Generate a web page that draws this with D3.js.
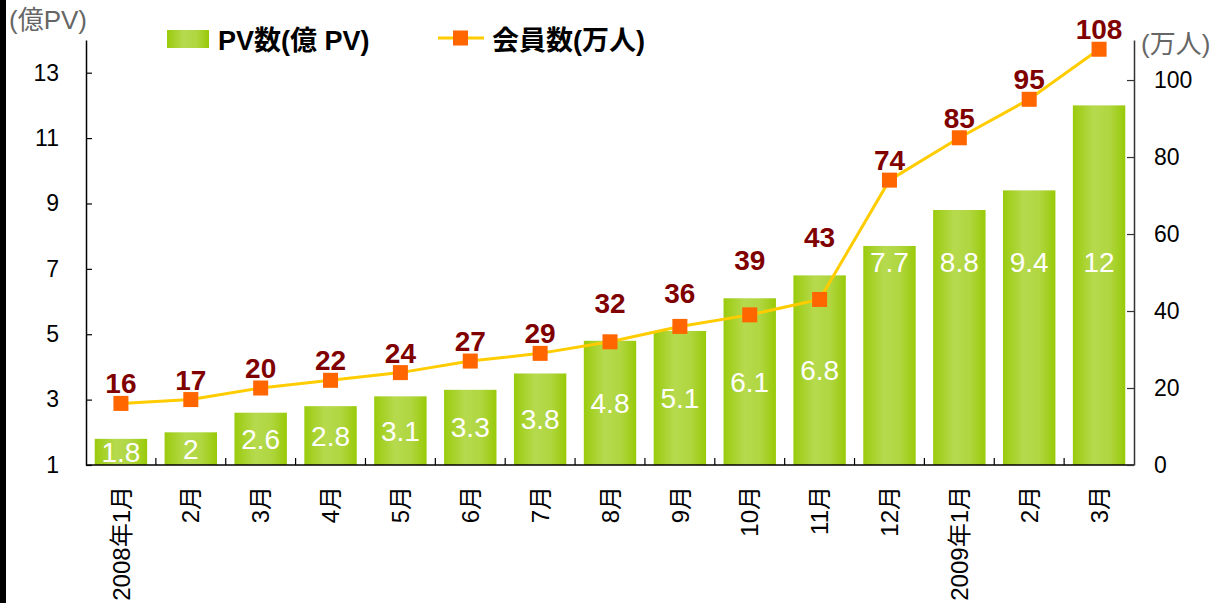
<!DOCTYPE html>
<html>
<head>
<meta charset="utf-8">
<script src="https://cdn.jsdelivr.net/npm/d3@7"></script>
<style>
  body { margin: 0; background: #fff; }
  svg { display: block; font-family: Arial, 'Liberation Sans', 'Noto Sans CJK JP', sans-serif; }
</style>
</head>
<body>
<div id="chart"></div>
<script>
const months = ['2008年1月', '2月', '3月', '4月', '5月', '6月', '7月', '8月', '9月', '10月', '11月', '12月', '2009年1月', '2月', '3月'];
const pvValues = [1.8, 2, 2.6, 2.8, 3.1, 3.3, 3.8, 4.8, 5.1, 6.1, 6.8, 7.7, 8.8, 9.4, 12];
const memberValues = [16, 17, 20, 22, 24, 27, 29, 32, 36, 39, 43, 74, 85, 95, 108];
const leftTicks = [1, 3, 5, 7, 9, 11, 13];
const rightTicks = [0, 20, 40, 60, 80, 100];

const W = 1213, H = 603;
const MARGIN = {TOP: 40, BOTTOM: 138, LEFT: 86, RIGHT: 79};
const WIDTH = W - MARGIN.LEFT - MARGIN.RIGHT;
const HEIGHT = H - MARGIN.TOP - MARGIN.BOTTOM;

const svg = d3.select('#chart').append('svg')
  .attr('width', W)
  .attr('height', H);

// black strip on the left edge
svg.append('rect').attr('x', 0).attr('y', 0).attr('width', 6).attr('height', H).attr('fill', '#000');

const defs = svg.append('defs');
const grad = defs.append('linearGradient').attr('id', 'barGrad')
  .attr('x1', '0%').attr('x2', '100%').attr('y1', '0%').attr('y2', '0%');
grad.append('stop').attr('offset', '0%').attr('stop-color', '#9acb0c');
grad.append('stop').attr('offset', '40%').attr('stop-color', '#b6da4e');
grad.append('stop').attr('offset', '70%').attr('stop-color', '#b0d640');
grad.append('stop').attr('offset', '100%').attr('stop-color', '#98ca08');

defs.append('clipPath').attr('id', 'plotClip')
  .append('rect').attr('x', 0).attr('y', -MARGIN.TOP).attr('width', WIDTH).attr('height', HEIGHT + MARGIN.TOP);

const g = svg.append('g')
  .attr('transform', `translate(${MARGIN.LEFT}, ${MARGIN.TOP})`);

const x = d3.scaleBand()
  .domain(d3.range(months.length))
  .range([0, WIDTH])
  .paddingInner(0.25)
  .paddingOuter(0.125);

const yLeft = d3.scaleLinear().domain([1, 14]).range([HEIGHT, 0]);
const yRight = d3.scaleLinear().domain([0, 110.4]).range([HEIGHT, 0]);

// bars
g.selectAll('rect.bar')
  .data(pvValues)
  .enter().append('rect')
    .attr('class', 'bar')
    .attr('x', (d, i) => x(i))
    .attr('y', d => yLeft(d))
    .attr('width', x.bandwidth())
    .attr('height', d => HEIGHT - yLeft(d))
    .attr('fill', 'url(#barGrad)');

// bar labels: centred in the bar, tall bars share one level
g.append('g').attr('clip-path', 'url(#plotClip)')
  .selectAll('text')
  .data(pvValues)
  .enter().append('text')
    .attr('x', (d, i) => x(i) + x.bandwidth() / 2)
    .attr('y', d => d > 7 ? yLeft(7.2) : (yLeft(d) + HEIGHT) / 2)
    .attr('dy', '0.36em')
    .attr('text-anchor', 'middle')
    .attr('fill', '#fff')
    .attr('font-size', '28px')
    .text(d => d);

// x axis line and ticks between categories
const step = x.step();
const edge = (step - x.bandwidth()) / 2;
g.append('line')
  .attr('x1', 0).attr('x2', WIDTH)
  .attr('y1', HEIGHT).attr('y2', HEIGHT)
  .attr('stroke', '#000').attr('stroke-width', 1.5);
g.selectAll('line.xtick')
  .data(d3.range(1, months.length))
  .enter().append('line')
    .attr('class', 'xtick')
    .attr('x1', i => x(i) - edge).attr('x2', i => x(i) - edge)
    .attr('y1', HEIGHT).attr('y2', HEIGHT - 7)
    .attr('stroke', '#000').attr('stroke-width', 1.2);

g.selectAll('text.xlabel')
  .data(months)
  .enter().append('text')
    .attr('class', 'xlabel')
    .attr('transform', (d, i) => `translate(${x(i) + x.bandwidth() / 2}, ${HEIGHT + 21}) rotate(-90)`)
    .attr('text-anchor', 'end')
    .attr('dy', '0.36em')
    .attr('font-size', '24px')
    .attr('fill', '#000')
    .text(d => d);

// left axis
const leftAxis = g.append('g')
  .call(d3.axisLeft(yLeft).tickValues(leftTicks).tickSizeInner(-6).tickSizeOuter(0).tickPadding(27));
leftAxis.select('.domain').attr('stroke', '#000').attr('stroke-width', 1.5);
leftAxis.selectAll('.tick line').attr('stroke', '#000').attr('stroke-width', 1.2);
leftAxis.selectAll('.tick text').attr('font-size', '23px').attr('fill', '#000').attr('font-family', null);

// right axis
const rightAxis = g.append('g')
  .attr('transform', `translate(${WIDTH}, 0)`)
  .call(d3.axisRight(yRight).tickValues(rightTicks).tickSizeInner(-7).tickSizeOuter(0).tickPadding(20));
rightAxis.select('.domain').attr('stroke', '#333').attr('stroke-width', 1.5);
rightAxis.selectAll('.tick line').attr('stroke', '#333').attr('stroke-width', 1.2);
rightAxis.selectAll('.tick text').attr('font-size', '23px').attr('fill', '#000').attr('font-family', null);

// axis titles
svg.append('text').attr('x', 9).attr('y', 20).attr('dy', '0.36em')
  .attr('font-size', '26px').attr('fill', '#666').text('(億PV)');
svg.append('text').attr('x', 1141).attr('y', 44).attr('dy', '0.36em')
  .attr('font-size', '26px').attr('fill', '#666').text('(万人)');

// line
const line = d3.line()
  .x((d, i) => x(i) + x.bandwidth() / 2)
  .y(d => yRight(d));

g.append('path')
  .datum(memberValues)
  .attr('d', line)
  .attr('fill', 'none')
  .attr('stroke', '#ffcc00')
  .attr('stroke-width', 3);

g.selectAll('rect.marker')
  .data(memberValues)
  .enter().append('rect')
    .attr('class', 'marker')
    .attr('x', (d, i) => x(i) + x.bandwidth() / 2 - 7.5)
    .attr('y', d => yRight(d) - 7.5)
    .attr('width', 15).attr('height', 15)
    .attr('fill', '#ff6600');

// member labels sit above the marker or the bar, whichever is higher
g.selectAll('text.mlabel')
  .data(memberValues)
  .enter().append('text')
    .attr('class', 'mlabel')
    .attr('x', (d, i) => x(i) + x.bandwidth() / 2)
    .attr('y', (d, i) => Math.min(yRight(d) - 20, yLeft(pvValues[i]) - 38))
    .attr('dy', '0.36em')
    .attr('text-anchor', 'middle')
    .attr('font-size', '28px')
    .attr('font-weight', 'bold')
    .attr('fill', '#800000')
    .text(d => d);

// legend
const legend = svg.append('g');
legend.append('rect').attr('x', 167).attr('y', 30).attr('width', 42).attr('height', 18).attr('fill', 'url(#barGrad)');
legend.append('text').attr('x', 218).attr('y', 40).attr('dy', '0.36em')
  .attr('font-size', '27px').attr('font-weight', 'bold').text('PV数(億 PV)');
legend.append('line').attr('x1', 438).attr('x2', 484).attr('y1', 38).attr('y2', 38)
  .attr('stroke', '#ffcc00').attr('stroke-width', 3);
legend.append('rect').attr('x', 453).attr('y', 30.5).attr('width', 15).attr('height', 15).attr('fill', '#ff6600');
legend.append('text').attr('x', 492).attr('y', 40).attr('dy', '0.36em')
  .attr('font-size', '27px').attr('font-weight', 'bold').text('会員数(万人)');
</script>
</body>
</html>
